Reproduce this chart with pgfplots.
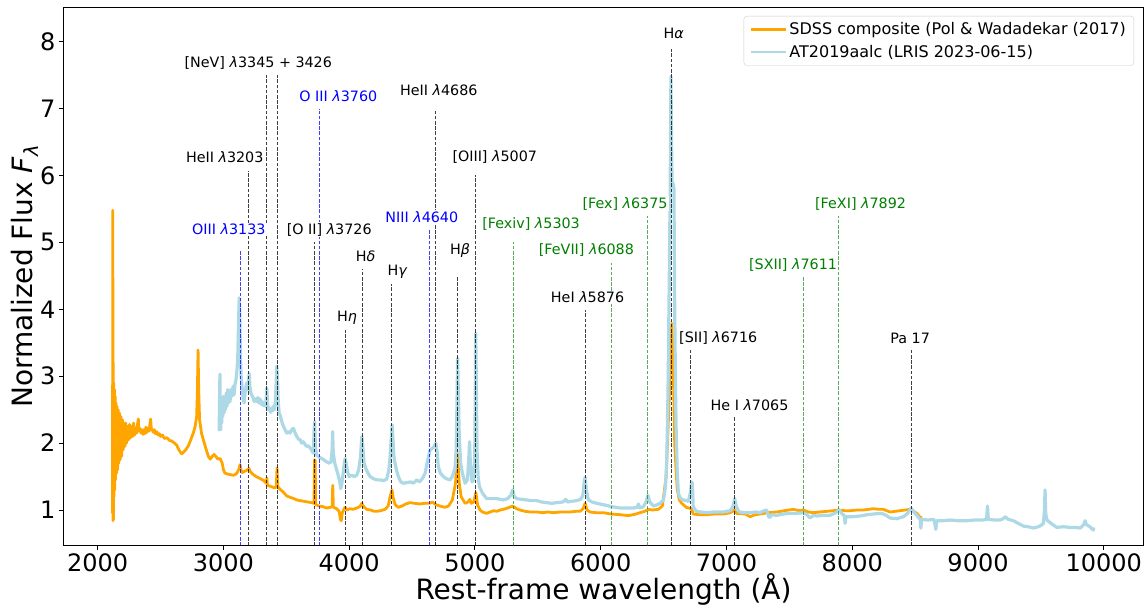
\documentclass[border=0pt]{standalone}
\usepackage{fontspec}
\setmainfont{DejaVu Sans}
\usepackage{pgfplots}
\pgfplotsset{compat=1.18}
\definecolor{sdss}{HTML}{FFA500}
\definecolor{atl}{HTML}{ADD8E6}
\definecolor{mgreen}{HTML}{008000}
\newcommand{\lfont}{\fontsize{14.3}{17}\selectfont}
\begin{document}
\begin{tikzpicture}
\useasboundingbox (-64pt,-62pt) rectangle (1083pt,545pt);
\begin{axis}[
  at={(0,0)}, anchor=south west,
  scale only axis, width=1079pt, height=537.5pt,
  xmin=1732, xmax=10312, ymin=0.477, ymax=8.51,
  xtick={2000,3000,4000,5000,6000,7000,8000,9000,10000},
  ytick={1,2,3,4,5,6,7,8},
  scaled x ticks=false,
  tick align=outside, tick pos=left,
  major tick length=5pt,
  every tick/.style={black, line width=1pt},
  axis line style={line width=1pt},
  ticklabel style={font=\fontsize{24}{28}\selectfont},
  /pgf/number format/assume math mode=true,
  /pgf/number format/1000 sep={},
  xlabel={Rest-frame wavelength (Å)},
  ylabel={Normalized Flux \textit{F}\textsubscript{\textit{λ}}},
  label style={font=\fontsize{28}{32}\selectfont},
  xlabel style={yshift=5pt},
  ylabel style={yshift=-5pt},
  legend style={at={(1,1)}, anchor=north east, xshift=-9pt, yshift=-8.5pt,
    draw=black!20, rounded corners=3pt, fill=white, fill opacity=0.8, text opacity=1,
    font=\fontsize{16}{19}\selectfont, inner xsep=6pt, inner ysep=4.5pt, row sep=5pt},
  legend cell align=left,
  legend image code/.code={\draw[#1, line width=2.5pt] (0pt,0pt) -- (35pt,0pt);},
]
\addplot[sdss, line width=2.8pt, line join=round] table {
x y
2118 0.95
2120 5.48
2122 0.84
2124 3.2
2126 0.86
2128 2.9
2130 1.2
2133 2.8
2136 1.3
2139 2.7
2142 1.45
2146 2.6
2150 1.55
2154 2.55
2158 1.6
2163 2.5
2168 1.7
2173 2.45
2178 1.75
2184 2.4
2190 1.8
2196 2.35
2202 1.9
2209 2.3
2216 1.95
2223 2.3
2230 2.0
2238 2.25
2246 2.05
2254 2.28
2262 2.08
2270 2.25
2278 2.1
2286 2.3
2294 2.12
2302 2.22
2310 2.15
2318 2.3
2323 2.36
2328 2.18
2336 2.22
2344 2.15
2352 2.2
2360 2.13
2368 2.2
2376 2.14
2384 2.24
2392 2.16
2400 2.22
2410 2.18
2416 2.3
2421 2.36
2426 2.22
2434 2.2
2442 2.16
2450 2.2
2460 2.14
2470 2.17
2480 2.12
2490 2.14
2500 2.1
2515 2.12
2530 2.07
2550 2.08
2570 2.04
2590 2.03
2610 2.0
2628 1.97
2645 1.9
2660 1.86
2668 1.84
2680 1.86
2700 1.9
2721 1.96
2740 2.05
2760 2.15
2775 2.25
2787 2.4
2793 2.8
2798 3.39
2803 2.8
2810 2.35
2825 2.15
2840 2.05
2860 1.92
2880 1.8
2895 1.76
2910 1.8
2925 1.83
2940 1.8
2955 1.76
2973 1.77
2990 1.7
3000 1.6
3012 1.55
3030 1.54
3050 1.53
3078 1.52
3095 1.53
3110 1.56
3125 1.62
3132 1.68
3140 1.6
3150 1.56
3170 1.58
3190 1.6
3203 1.62
3215 1.57
3237 1.53
3260 1.5
3291 1.47
3320 1.44
3340 1.4
3345 1.48
3350 1.37
3380 1.35
3410 1.33
3420 1.35
3426 1.63
3432 1.35
3450 1.31
3480 1.26
3503 1.21
3530 1.19
3560 1.17
3583 1.15
3610 1.14
3640 1.13
3670 1.12
3700 1.11
3720 1.1
3724 1.75
3729 1.75
3733 1.08
3760 1.06
3790 1.05
3821 1.03
3850 1.04
3864 1.05
3869 1.37
3874 1.04
3900 1.02
3920 0.98
3930 0.86
3937 0.84
3945 0.96
3966 1.04
3985 1.0
4006 1.02
4030 1.01
4060 1.03
4085 1.05
4100 1.10
4115 1.05
4139 1.01
4170 1.0
4200 0.98
4219 0.98
4250 0.99
4285 1.01
4310 1.06
4325 1.2
4340 1.30
4350 1.18
4365 1.08
4390 1.04
4420 1.06
4450 1.09
4483 1.11
4520 1.10
4560 1.09
4600 1.1
4640 1.1
4660 1.12
4690 1.08
4720 1.06
4760 1.04
4790 1.06
4820 1.15
4845 1.4
4861 1.84
4875 1.4
4890 1.2
4921 1.1
4945 1.12
4959 1.16
4970 1.1
4990 1.12
5007 1.26
5020 1.08
5040 1.0
5060 0.97
5093 0.95
5120 0.97
5150 0.99
5173 0.98
5200 1.0
5225 1.01
5260 1.03
5300 1.06
5330 1.02
5358 1.0
5400 0.98
5440 0.97
5491 0.97
5540 0.96
5580 0.97
5623 0.96
5680 0.97
5720 0.97
5756 0.97
5800 0.98
5835 0.98
5860 1.02
5876 1.10
5890 1.0
5915 0.97
5960 0.96
6021 0.96
6080 0.94
6153 0.93
6200 0.92
6233 0.92
6280 0.94
6312 0.96
6350 0.98
6379 1.01
6410 1.0
6458 1.01
6490 1.06
6520 1.50
6535 2.2
6546 2.74
6556 3.4
6565 3.79
6572 3.4
6578 2.99
6588 2.0
6600 1.55
6609 1.30
6625 1.15
6644 1.10
6680 1.04
6720 1.02
6736 0.94
6780 0.93
6843 0.93
6900 0.94
6975 0.94
7030 0.96
7063 1.0
7080 0.95
7150 0.94
7188 0.9
7230 0.93
7267 0.94
7330 0.96
7400 0.97
7460 0.99
7532 1.01
7580 0.99
7611 1.0
7650 0.97
7691 0.96
7740 0.97
7797 0.98
7850 0.99
7890 1.0
7940 0.99
7983 0.99
8040 1.0
8088 1.0
8130 1.01
8168 1.02
8210 1.01
8247 1.01
8300 0.97
8340 0.98
8380 0.99
8420 1.0
8460 1.01
8490 0.98
8513 0.95
8535 0.9
8553 0.88
};
\addlegendentry{SDSS composite (Pol \& Wadadekar (2017)}
\addplot[atl, line width=3.2pt, line join=round] table {
x y
2966 2.18
2969 2.7
2972 3.03
2975 2.3
2978 2.2
2982 2.55
2986 2.3
2990 2.6
2995 2.4
3000 2.7
3005 2.45
3010 2.62
3016 2.5
3022 2.75
3028 2.55
3034 2.8
3040 2.6
3046 2.78
3052 2.62
3060 2.8
3068 2.7
3076 2.85
3084 2.72
3092 2.88
3100 2.95
3108 3.1
3114 3.3
3120 3.8
3125 4.17
3130 3.9
3135 3.3
3140 3.0
3145 2.92
3152 2.75
3158 2.65
3164 2.6
3172 2.75
3180 2.85
3186 2.9
3193 2.8
3200 2.95
3205 3.04
3210 2.85
3218 2.75
3225 2.72
3235 2.68
3245 2.62
3255 2.66
3264 2.62
3273 2.68
3282 2.6
3291 2.66
3300 2.58
3308 2.62
3317 2.56
3326 2.6
3335 2.55
3341 2.7
3345 2.82
3350 2.6
3358 2.5
3366 2.52
3374 2.46
3382 2.52
3390 2.48
3397 2.55
3405 2.5
3412 2.6
3418 2.85
3424 3.15
3430 2.95
3436 2.6
3443 2.45
3450 2.42
3460 2.35
3470 2.28
3480 2.24
3490 2.2
3503 2.15
3515 2.17
3529 2.15
3542 2.2
3556 2.22
3570 2.15
3583 2.1
3596 2.06
3609 2.05
3622 2.0
3635 2.02
3648 1.98
3662 1.95
3675 1.96
3688 1.93
3700 1.9
3710 1.86
3715 1.85
3721 2.2
3725 2.32
3731 1.95
3740 1.82
3754 1.8
3770 1.78
3790 1.76
3805 1.74
3821 1.72
3840 1.7
3855 1.72
3864 1.9
3868 2.17
3873 1.85
3885 1.7
3900 1.6
3915 1.5
3925 1.42
3932 1.32
3940 1.38
3952 1.55
3962 1.72
3968 1.77
3975 1.7
3988 1.56
4001 1.5
4020 1.52
4040 1.5
4060 1.52
4075 1.6
4090 1.8
4100 2.1
4106 2.0
4118 1.7
4132 1.62
4150 1.55
4166 1.5
4190 1.47
4219 1.45
4245 1.45
4270 1.44
4298 1.46
4315 1.6
4325 1.8
4335 2.1
4341 2.27
4348 2.05
4355 1.8
4364 1.7
4378 1.58
4391 1.5
4410 1.42
4430 1.4
4460 1.41
4490 1.42
4510 1.4
4537 1.45
4560 1.42
4585 1.48
4603 1.55
4625 1.75
4643 1.90
4660 1.92
4675 1.95
4688 2.0
4700 1.85
4708 1.65
4725 1.55
4748 1.50
4770 1.47
4801 1.45
4820 1.5
4841 1.62
4850 1.9
4857 2.6
4862 3.27
4867 2.8
4875 2.1
4886 1.70
4900 1.55
4921 1.40
4940 1.45
4950 1.75
4957 2.02
4963 1.7
4976 1.42
4990 1.45
4998 1.8
5003 2.9
5006 3.64
5010 3.0
5016 1.9
5025 1.5
5035 1.35
5060 1.25
5093 1.17
5130 1.17
5173 1.17
5200 1.16
5225 1.15
5260 1.17
5285 1.22
5300 1.30
5312 1.2
5332 1.17
5370 1.16
5411 1.15
5450 1.14
5491 1.14
5530 1.12
5570 1.11
5610 1.1
5650 1.11
5700 1.12
5722 1.16
5735 1.12
5770 1.13
5809 1.14
5840 1.16
5858 1.22
5870 1.45
5876 1.49
5885 1.3
5902 1.15
5930 1.12
5968 1.10
6020 1.08
6088 1.05
6153 1.03
6200 1.03
6259 1.03
6290 1.04
6300 1.09
6310 1.03
6339 1.05
6360 1.12
6375 1.22
6390 1.12
6419 1.06
6450 1.08
6472 1.10
6499 1.15
6515 1.35
6525 1.75
6535 2.8
6546 4.64
6553 6.0
6558 7.48
6563 6.5
6567 5.9
6575 5.88
6582 5.8
6588 4.0
6594 2.9
6599 2.25
6608 1.6
6617 1.25
6635 1.17
6657 1.15
6680 1.14
6697 1.13
6712 1.25
6722 1.42
6729 1.4
6735 1.05
6760 0.98
6800 0.97
6843 0.96
6900 0.97
6975 0.97
7030 0.99
7050 1.05
7065 1.17
7078 1.05
7100 0.97
7150 0.96
7188 0.96
7230 0.97
7267 0.96
7300 0.99
7320 1.0
7335 0.9
7346 0.89
7360 0.93
7400 0.92
7450 0.94
7506 0.95
7560 0.95
7611 0.96
7640 0.93
7664 0.88
7690 0.92
7718 0.91
7770 0.92
7824 0.92
7870 0.96
7898 1.0
7920 0.94
7935 0.92
7943 0.80
7950 0.9
8000 0.9
8062 0.91
8120 0.93
8168 0.94
8234 0.95
8270 0.92
8300 0.88
8354 0.87
8407 0.9
8440 0.95
8467 1.03
8490 0.97
8513 0.92
8540 0.86
8545 0.73
8552 0.86
8600 0.85
8650 0.86
8664 0.71
8672 0.84
8720 0.84
8778 0.85
8840 0.84
8910 0.84
8970 0.85
9043 0.85
9068 0.86
9075 1.06
9082 0.86
9130 0.85
9175 0.85
9200 0.87
9215 0.90
9240 0.86
9281 0.84
9320 0.8
9361 0.76
9400 0.75
9440 0.73
9480 0.75
9500 0.77
9520 0.8
9528 1.0
9533 1.30
9538 0.95
9548 0.85
9580 0.8
9626 0.74
9680 0.75
9732 0.74
9780 0.74
9812 0.73
9840 0.78
9851 0.84
9862 0.78
9890 0.75
9905 0.72
9917 0.70
9920 0.74
};
\addlegendentry{AT2019aalc (LRIS 2023-06-15)}
% emission line markers
\pgfplotsset{lk/.style={forget plot, black, opacity=0.75, line width=1pt, dash pattern=on 3.5pt off 1.7pt},
             lb/.style={forget plot, blue, opacity=0.75, line width=1pt, dash pattern=on 3.5pt off 1.7pt},
             lg/.style={forget plot, mgreen, opacity=0.65, line width=1pt, dash pattern=on 3.5pt off 1.7pt}}
\addplot[lb] coordinates {(3133,0) (3133,4.89)};
\addplot[lk] coordinates {(3203,0) (3203,6.07)};
\addplot[lk] coordinates {(3345,0) (3345,7.50)};
\addplot[lk] coordinates {(3426,0) (3426,7.50)};
\addplot[lk] coordinates {(3726,0) (3726,5.00)};
\addplot[lb] coordinates {(3760,0) (3760,7.00)};
\addplot[lk] coordinates {(3970,0) (3970,3.69)};
\addplot[lk] coordinates {(4102,0) (4102,4.60)};
\addplot[lk] coordinates {(4340,0) (4340,4.38)};
\addplot[lb] coordinates {(4640,0) (4640,5.20)};
\addplot[lk] coordinates {(4686,0) (4686,6.98)};
\addplot[lk] coordinates {(4861,0) (4861,4.50)};
\addplot[lk] coordinates {(5007,0) (5007,6.01)};
\addplot[lg] coordinates {(5303,0) (5303,5.00)};
\addplot[lk] coordinates {(5876,0) (5876,3.99)};
\addplot[lg] coordinates {(6088,0) (6088,4.69)};
\addplot[lg] coordinates {(6375,0) (6375,5.39)};
\addplot[lk] coordinates {(6563,0) (6563,7.89)};
\addplot[lk] coordinates {(6716,0) (6716,3.39)};
\addplot[lk] coordinates {(7065,0) (7065,2.39)};
\addplot[lg] coordinates {(7611,0) (7611,4.50)};
\addplot[lg] coordinates {(7892,0) (7892,5.39)};
\addplot[lk] coordinates {(8467,0) (8467,3.39)};
% labels
\tikzset{lab/.style={font=\lfont, fill=white, inner sep=1pt}}
\node[lab, text=blue] at (axis cs:3043,5.19) {OIII \textit{λ}3133};
\node[lab] at (axis cs:3010,6.28) {HeII \textit{λ}3203};
\node[lab] at (axis cs:3277,7.68) {[NeV] \textit{λ}3345 + 3426};
\node[lab] at (axis cs:3841,5.19) {[O II] \textit{λ}3726};
\node[lab, text=blue] at (axis cs:3913,7.18) {O III \textit{λ}3760};
\node[lab] at (axis cs:3983,3.88) {H\textit{η}};
\node[lab] at (axis cs:4130,4.79) {H\textit{δ}};
\node[lab] at (axis cs:4384,4.56) {H\textit{γ}};
\node[lab, text=blue] at (axis cs:4577,5.38) {NIII \textit{λ}4640};
\node[lab] at (axis cs:4712,7.28) {HeII \textit{λ}4686};
\node[lab] at (axis cs:4881,4.88) {H\textit{β}};
\node[lab] at (axis cs:5157,6.28) {[OIII] \textit{λ}5007};
\node[lab, text=mgreen] at (axis cs:5446,5.27) {[Fexiv] \textit{λ}5303};
\node[lab] at (axis cs:5895,4.18) {HeI \textit{λ}5876};
\node[lab, text=mgreen] at (axis cs:5886,4.89) {[FeVII] \textit{λ}6088};
\node[lab, text=mgreen] at (axis cs:6193,5.58) {[Fex] \textit{λ}6375};
\node[lab] at (axis cs:6581,8.13) {H\textit{α}};
\node[lab] at (axis cs:6934,3.57) {[SII] \textit{λ}6716};
\node[lab] at (axis cs:7183,2.57) {He I \textit{λ}7065};
\node[lab, text=mgreen] at (axis cs:7529,4.66) {[SXII] \textit{λ}7611};
\node[lab, text=mgreen] at (axis cs:8066,5.57) {[FeXI] \textit{λ}7892};
\node[lab] at (axis cs:8460,3.57) {Pa 17};
\end{axis}
\end{tikzpicture}
\end{document}
